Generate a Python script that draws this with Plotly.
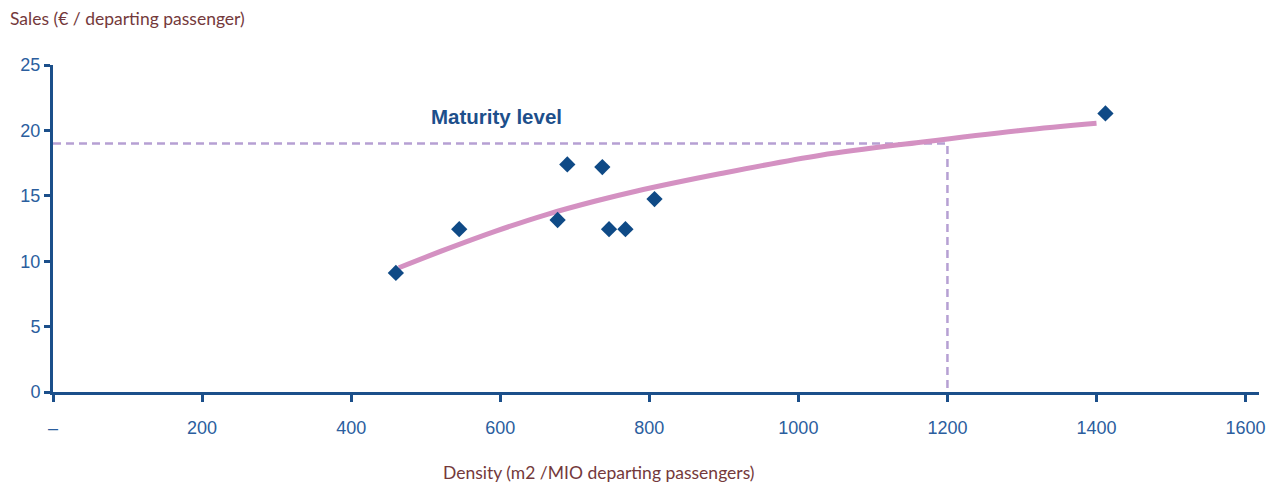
import plotly.graph_objects as go

# Data
density = [460, 545, 677, 690, 737, 746, 768, 807, 1412]
sales = [9.1, 12.45, 13.15, 17.4, 17.2, 12.45, 12.45, 14.75, 21.3]

trend_x = [464, 527, 594, 661, 728, 782, 896, 1030, 1164, 1298, 1400]
trend_y = [9.5, 10.9, 12.3, 13.55, 14.6, 15.35, 16.7, 18.1, 19.1, 20.0, 20.55]

maturity_x = [0, 1200, 1200]
maturity_y = [19, 19, 0]

x_ticks = [0, 200, 400, 600, 800, 1000, 1200, 1400, 1600]
x_ticktext = ["–", "200", "400", "600", "800", "1000", "1200", "1400", "1600"]
y_ticks = [0, 5, 10, 15, 20, 25]

AXIS = "#1b4f8a"
TICKFONT = "#2b5e9e"
BROWN = "#74393b"

L, R, T, B = 53, 15, 65, 94.5
PW = 1274 - L - R
PH = 487 - T - B

fig = go.Figure()
fig.add_trace(go.Scatter(x=maturity_x, y=maturity_y, mode="lines",
                         line=dict(color="#b6a0d3", width=2.5, dash="8px,5px"),
                         hoverinfo="skip", showlegend=False))
fig.add_trace(go.Scatter(x=trend_x, y=trend_y, mode="lines",
                         line=dict(color="#d491c2", width=5, shape="spline", smoothing=1),
                         showlegend=False))
fig.add_trace(go.Scatter(x=density, y=sales, mode="markers",
                         marker=dict(symbol="diamond", size=12.5, color="#0f4a86"),
                         showlegend=False))

fig.add_annotation(x=595, y=21.05, text="<b>Maturity level</b>", showarrow=False,
                   font=dict(family="Liberation Sans, Arial", size=20.5, color="#1d4f8b"))
fig.add_annotation(xref="paper", yref="paper", x=(599 - L) / PW, y=(487 - B - 473) / PH,
                   xanchor="center", yanchor="middle",
                   text="Density (m2 /MIO departing passengers)", showarrow=False,
                   font=dict(family="Lato, Open Sans", size=17.5, color=BROWN))
fig.add_annotation(xref="paper", yref="paper", x=(8 - L) / PW, xanchor="left",
                   y=(487 - B - 18) / PH, yanchor="middle",
                   text="Sales (€ / departing passenger)", showarrow=False,
                   font=dict(family="Lato, Open Sans", size=17.5, color=BROWN))

fig.update_xaxes(range=[0, 1618], tickvals=x_ticks, ticktext=x_ticktext, automargin=False,
                 showline=True, linecolor=AXIS, linewidth=3, ticks="outside",
                 tickcolor=AXIS, tickwidth=3, ticklen=7, showgrid=False, zeroline=False,
                 tickfont=dict(family="Liberation Sans, Arial", size=18, color=TICKFONT),
                 ticklabelstandoff=10)
fig.update_yaxes(range=[0, 25], tickvals=y_ticks, automargin=False,
                 showline=True, linecolor=AXIS, linewidth=3, ticks="outside",
                 tickcolor=AXIS, tickwidth=3, ticklen=6, showgrid=False, zeroline=False,
                 tickfont=dict(family="Liberation Sans, Arial", size=18, color=TICKFONT))

fig.update_layout(width=1274, height=487, plot_bgcolor="white", paper_bgcolor="white",
                  margin=dict(l=L, r=R, t=T, b=B))
fig.write_html("out.html", config={"displayModeBar": False},
               post_script="document.body.style.margin='0';document.body.style.overflow='hidden';")
